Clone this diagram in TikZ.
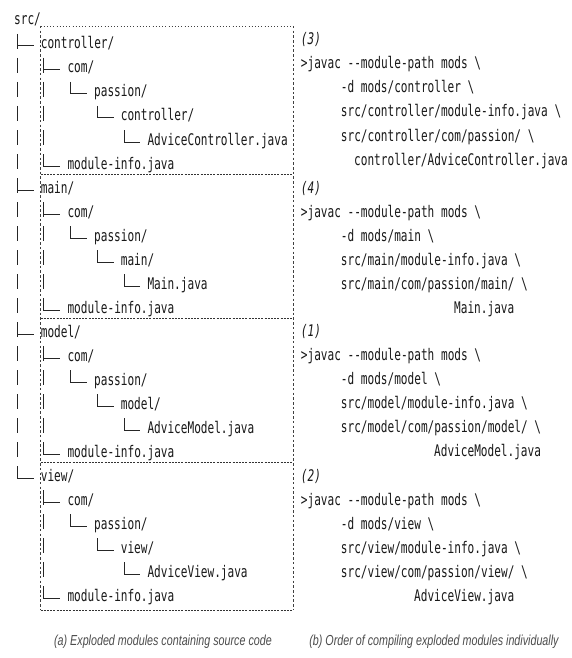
\documentclass[tikz,border=0pt]{standalone}
\usepackage{fontspec}
\setmonofont[FakeStretch=0.693]{DejaVu Sans Mono}
\newfontfamily\capfont[FakeStretch=0.74]{Liberation Sans}
\newcommand\treebar[2]{\draw[treeline] ({17.33+6.667*#1},{#2-15}) -- ({17.33+6.667*#1},{#2});}
\newcommand\treetee[2]{\draw[treeline] ({17.33+6.667*#1},{#2-15}) -- ({17.33+6.667*#1},{#2}) ({17.33+6.667*#1},{#2-3}) -- ({33.5+6.667*#1},{#2-3});}
\newcommand\treeell[2]{\draw[treeline] ({17.33+6.667*#1},{#2-15}) -- ({17.33+6.667*#1},{#2-3}) -- ({33.5+6.667*#1},{#2-3});}
\begin{document}
\begin{tikzpicture}[x=1pt,y=-1pt,
  txt/.style={anchor=base west,inner sep=0pt,font=\ttfamily\fontsize{16}{18}\selectfont,text=black!90},
  num/.style={txt,font=\ttfamily\itshape\fontsize{16}{18}\selectfont},
  captext/.style={anchor=base,inner sep=0pt,font=\capfont\itshape\fontsize{14.5}{16}\selectfont,text=black!70},
  treeline/.style={line width=1pt,draw=black!85},
  boxv/.style={line width=0.8pt,draw=black!75,dash pattern=on 2.5pt off 2.2pt},
  boxtop/.style={line width=0.8pt,draw=black!75,dash pattern=on 1pt off 2.2pt},
  boxsep/.style={line width=0.8pt,draw=black!80,dash pattern=on 2pt off 1.2pt}]
\useasboundingbox (0,0) rectangle (571,658);
\fill[white] (0,0) rectangle (571,658);

% ---------- left: tree ----------
\node[txt] (src) at (14,25) {src/};

\node[txt] (m1) at (40.67,49) {controller/};
\node[txt] (m1com) at (67.33,73) {com/};
\node[txt] (m1pas) at (94,97) {passion/};
\node[txt] (m1pkg) at (120.67,121) {controller/};
\node[txt] (m1leaf) at (147.33,145) {AdviceController.java};
\node[txt] (m1info) at (67.33,169) {module-info.java};

\node[txt] (m2) at (40.67,193) {main/};
\node[txt] (m2com) at (67.33,217) {com/};
\node[txt] (m2pas) at (94,241) {passion/};
\node[txt] (m2pkg) at (120.67,265) {main/};
\node[txt] (m2leaf) at (147.33,289) {Main.java};
\node[txt] (m2info) at (67.33,313) {module-info.java};

\node[txt] (m3) at (40.67,337) {model/};
\node[txt] (m3com) at (67.33,361) {com/};
\node[txt] (m3pas) at (94,385) {passion/};
\node[txt] (m3pkg) at (120.67,409) {model/};
\node[txt] (m3leaf) at (147.33,433) {AdviceModel.java};
\node[txt] (m3info) at (67.33,457) {module-info.java};

\node[txt] (m4) at (40.67,481) {view/};
\node[txt] (m4com) at (67.33,505) {com/};
\node[txt] (m4pas) at (94,529) {passion/};
\node[txt] (m4pkg) at (120.67,553) {view/};
\node[txt] (m4leaf) at (147.33,577) {AdviceView.java};
\node[txt] (m4info) at (67.33,601) {module-info.java};

\foreach \b/\last in {49/0,193/0,337/0,481/1}{
  \ifnum\last=0
    \treetee{0}{\b}
    \foreach \k in {1,...,5}{\treebar{0}{\b+24*\k}}
  \else
    \treeell{0}{\b}
  \fi
  \treetee{4}{\b+24}
  \foreach \k in {2,3,4}{\treebar{4}{\b+24*\k}}
  \treeell{4}{\b+120}
  \treeell{8}{\b+48}
  \treeell{12}{\b+72}
  \treeell{16}{\b+96}
}

% ---------- dashed frame ----------
\draw[boxtop] (40.5,26) -- (293,26);
\draw[boxv] (40.5,26) -- (40.5,610);
\draw[boxv] (293,26) -- (293,610);
\foreach \y in {174,318,462,610}{\draw[boxsep] (40.5,\y) -- (293,\y);}

% ---------- right: commands ----------
\node[num] (n3) at (300.7,45) {(3)};
\node[txt] (c3a) at (300.7,69) {>javac --module-path mods \textbackslash};
\node[txt] (c3b) at (340.7,93) {-d mods/controller \textbackslash};
\node[txt] (c3c) at (340.7,117) {src/controller/module-info.java \textbackslash};
\node[txt] (c3d) at (340.7,141) {src/controller/com/passion/ \textbackslash};
\node[txt] (c3e) at (354,165) {controller/AdviceController.java};

\node[num] (n4) at (300.7,193) {(4)};
\node[txt] (c4a) at (300.7,217) {>javac --module-path mods \textbackslash};
\node[txt] (c4b) at (340.7,241) {-d mods/main \textbackslash};
\node[txt] (c4c) at (340.7,265) {src/main/module-info.java \textbackslash};
\node[txt] (c4d) at (340.7,289) {src/main/com/passion/main/ \textbackslash};
\node[txt] (c4e) at (454,313) {Main.java};

\node[num] (n1) at (300.7,336) {(1)};
\node[txt] (c1a) at (300.7,360) {>javac --module-path mods \textbackslash};
\node[txt] (c1b) at (340.7,384) {-d mods/model \textbackslash};
\node[txt] (c1c) at (340.7,408) {src/model/module-info.java \textbackslash};
\node[txt] (c1d) at (340.7,432) {src/model/com/passion/model/ \textbackslash};
\node[txt] (c1e) at (434,456) {AdviceModel.java};

\node[num] (n2) at (300.7,481) {(2)};
\node[txt] (c2a) at (300.7,505) {>javac --module-path mods \textbackslash};
\node[txt] (c2b) at (340.7,529) {-d mods/view \textbackslash};
\node[txt] (c2c) at (340.7,553) {src/view/module-info.java \textbackslash};
\node[txt] (c2d) at (340.7,577) {src/view/com/passion/view/ \textbackslash};
\node[txt] (c2e) at (414,601) {AdviceView.java};

% ---------- captions ----------
\node[captext] (capa) at (163,645) {(a) Exploded modules containing source code};
\node[captext] (capb) at (434,645) {(b) Order of compiling exploded modules individually};
\end{tikzpicture}
\end{document}
